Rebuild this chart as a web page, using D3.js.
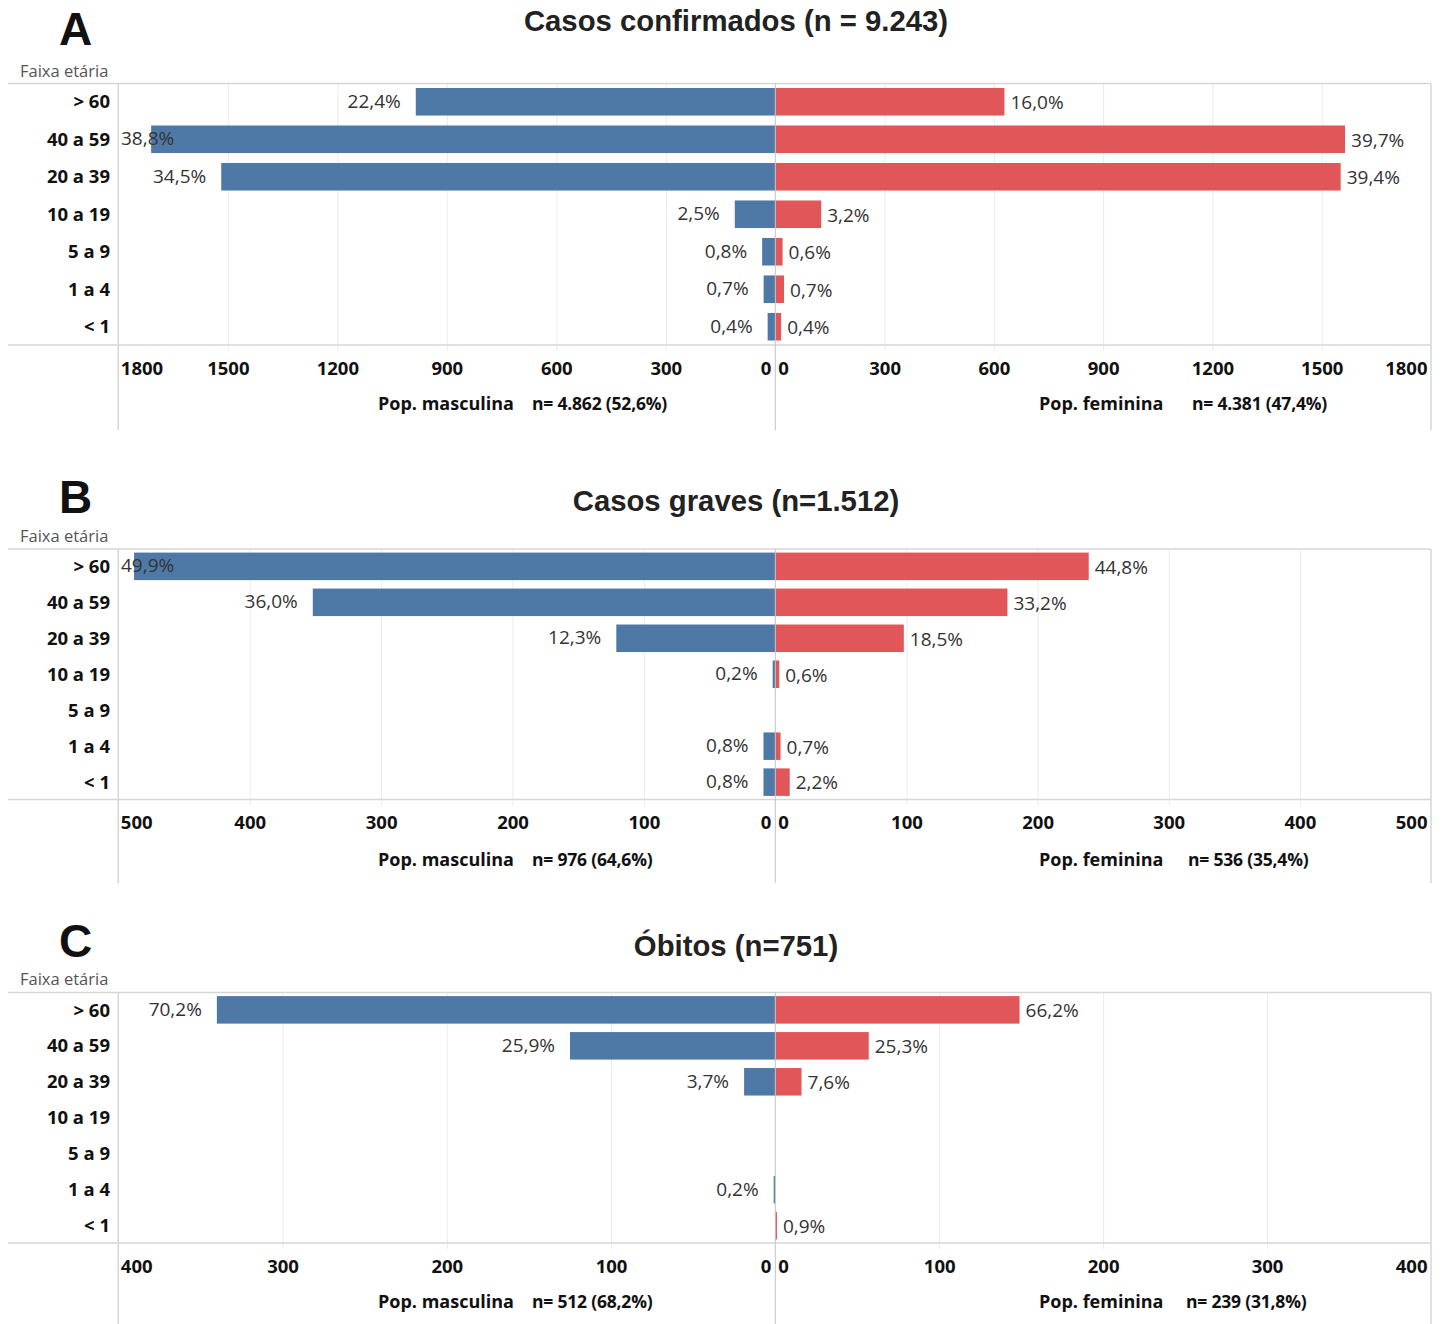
<!DOCTYPE html>
<html>
<head>
<meta charset="utf-8">
<script src="https://cdn.jsdelivr.net/npm/d3@7/dist/d3.min.js"></script>
<style>
  html, body { margin: 0; padding: 0; background: #ffffff; }
  svg { display: block; }
</style>
</head>
<body>
<svg id="chart" width="1444" height="1324"></svg>
<script>
// ---------------- DATA ----------------
const ageGroups = ["> 60", "40 a 59", "20 a 39", "10 a 19", "5 a 9", "1 a 4", "< 1"];

// Panel A – Casos confirmados
const maleA = [985, 1710, 1518, 111, 36, 32, 21];
const femaleA = [629, 1564, 1552, 126, 20, 24, 16];
const maleLabelsA = ["22,4%", "38,8%", "34,5%", "2,5%", "0,8%", "0,7%", "0,4%"];
const femaleLabelsA = ["16,0%", "39,7%", "39,4%", "3,2%", "0,6%", "0,7%", "0,4%"];
const ticksA = [0, 300, 600, 900, 1200, 1500, 1800];

// Panel B – Casos graves
const maleB = [488, 352, 121, 2, 0, 9, 9];
const femaleB = [239, 177, 98, 3, 0, 4, 11];
const maleLabelsB = ["49,9%", "36,0%", "12,3%", "0,2%", "", "0,8%", "0,8%"];
const femaleLabelsB = ["44,8%", "33,2%", "18,5%", "0,6%", "", "0,7%", "2,2%"];
const ticksB = [0, 100, 200, 300, 400, 500];

// Panel C – Óbitos
const maleC = [340, 125, 19, 0, 0, 1, 0];
const femaleC = [149, 57, 16, 0, 0, 0, 1];
const maleLabelsC = ["70,2%", "25,9%", "3,7%", "", "", "0,2%", ""];
const femaleLabelsC = ["66,2%", "25,3%", "7,6%", "", "", "", "0,9%"];
const ticksC = [0, 100, 200, 300, 400];

const panelLetters = ["A", "B", "C"];
const titles = ["Casos confirmados (n = 9.243)", "Casos graves (n=1.512)", "Óbitos (n=751)"];
const maleTotals = ["n= 4.862 (52,6%)", "n= 976 (64,6%)", "n= 512 (68,2%)"];
const femaleTotals = ["n= 4.381 (47,4%)", "n= 536 (35,4%)", "n= 239 (31,8%)"];
const maleAxisTitle = "Pop. masculina";
const femaleAxisTitle = "Pop. feminina";
const rowAxisTitle = "Faixa etária";

// ---------------- LAYOUT ----------------
const BLUE = "#4e79a7", RED = "#e15759";
const X_LEFT = 118.3, X_CENTER = 775.3, X_RIGHT = 1431, X_LINE0 = 8;
const LABEL_FONT = "'Open Sans', 'Noto Sans', sans-serif";

const panels = [
  { male: maleA, female: femaleA, ml: maleLabelsA, fl: femaleLabelsA, ticks: ticksA,
    rowTop: 83.5, rowBottom: 345, tickY: 375, subY: 410, bottom: 430,
    titleY: 31, letterY: 45, faixaY: 77, pi: 0.265, po: 0.12, femNX: 1192 },
  { male: maleB, female: femaleB, ml: maleLabelsB, fl: femaleLabelsB, ticks: ticksB,
    rowTop: 549, rowBottom: 799.5, tickY: 829, subY: 866, bottom: 883,
    titleY: 511, letterY: 513, faixaY: 542, pi: 0.235, po: 0.1, femNX: 1188 },
  { male: maleC, female: femaleC, ml: maleLabelsC, fl: femaleLabelsC, ticks: ticksC,
    rowTop: 992.5, rowBottom: 1243, tickY: 1273, subY: 1308, bottom: 1324,
    titleY: 956, letterY: 957, faixaY: 985, pi: 0.235, po: 0.1, femNX: 1186 }
];

const svg = d3.select("#chart");

panels.forEach((p, i) => {
  const g = svg.append("g");
  const max = d3.max(p.ticks);
  const xL = d3.scaleLinear().domain([0, max]).range([X_CENTER, X_LEFT]);
  const xR = d3.scaleLinear().domain([0, max]).range([X_CENTER, X_RIGHT]);
  const y = d3.scaleBand().domain(ageGroups).range([p.rowTop, p.rowBottom])
    .paddingInner(p.pi).paddingOuter(p.po);

  // Letter and title
  g.append("text").attr("x", 59).attr("y", p.letterY)
    .attr("font-family", "'Liberation Sans', Arial, sans-serif")
    .attr("font-weight", "bold").attr("font-size", 46).attr("fill", "#111")
    .text(panelLetters[i]);
  g.append("text").attr("x", 736).attr("y", p.titleY).attr("text-anchor", "middle")
    .attr("font-family", "'Liberation Sans', Arial, sans-serif")
    .attr("font-weight", "bold").attr("font-size", 29.3).attr("fill", "#222")
    .text(titles[i]);
  g.append("text").attr("x", 20).attr("y", p.faixaY)
    .attr("font-family", LABEL_FONT).attr("font-size", 16.5).attr("fill", "#555")
    .text(rowAxisTitle);

  // Gridlines via axes
  const gridTicksL = p.ticks.filter(t => t > 0 && t < max);
  const gridL = d3.axisBottom(xL).tickValues(gridTicksL)
    .tickSize(-(p.rowBottom - p.rowTop + 6)).tickFormat("");
  const gridR = d3.axisBottom(xR).tickValues(gridTicksL)
    .tickSize(-(p.rowBottom - p.rowTop + 6)).tickFormat("");
  [gridL, gridR].forEach(ax => {
    const gg = g.append("g").attr("transform", `translate(0,${p.rowBottom + 6})`).call(ax);
    gg.select(".domain").remove();
    gg.selectAll(".tick line").attr("stroke", "#ebebeb").attr("stroke-width", 1);
  });

  // Frame lines
  const lineColor = "#d6d6d6";
  g.append("line").attr("x1", X_LINE0).attr("x2", X_RIGHT).attr("y1", p.rowTop).attr("y2", p.rowTop)
    .attr("stroke", lineColor).attr("stroke-width", 1.5);
  g.append("line").attr("x1", X_LINE0).attr("x2", X_RIGHT).attr("y1", p.rowBottom).attr("y2", p.rowBottom)
    .attr("stroke", lineColor).attr("stroke-width", 1.5);
  [X_LEFT, X_RIGHT].forEach(x => {
    g.append("line").attr("x1", x).attr("x2", x).attr("y1", p.rowTop).attr("y2", p.bottom)
      .attr("stroke", lineColor).attr("stroke-width", 1.5);
  });

  // Bars
  g.selectAll(".bm").data(ageGroups.map((a, k) => ({ a, v: p.male[k] })).filter(d => d.v > 0))
    .enter().append("rect")
    .attr("x", d => xL(d.v)).attr("y", d => y(d.a))
    .attr("width", d => X_CENTER - xL(d.v)).attr("height", y.bandwidth())
    .attr("fill", BLUE);
  g.selectAll(".bf").data(ageGroups.map((a, k) => ({ a, v: p.female[k] })).filter(d => d.v > 0))
    .enter().append("rect")
    .attr("x", X_CENTER).attr("y", d => y(d.a))
    .attr("width", d => xR(d.v) - X_CENTER).attr("height", y.bandwidth())
    .attr("fill", RED);

  // Center line
  g.append("line").attr("x1", X_CENTER).attr("x2", X_CENTER).attr("y1", p.rowTop).attr("y2", p.bottom)
    .attr("stroke", "#c4c4c4").attr("stroke-width", 1);

  // Bar labels
  ageGroups.forEach((a, k) => {
    const cy = y(a) + y.bandwidth() / 2;
    if (p.ml[k]) {
      const t = g.append("text").attr("y", cy - 1).attr("dy", "0.36em")
        .attr("font-family", LABEL_FONT).attr("font-size", 19).attr("fill", "#333")
        .attr("text-anchor", "end").attr("x", xL(p.male[k]) - 15).text(p.ml[k]);
      const w = t.node().getComputedTextLength();
      if (xL(p.male[k]) - 15 - w < 121) {
        t.attr("text-anchor", "start").attr("x", 121);
      }
    }
    if (p.fl[k]) {
      g.append("text").attr("y", cy + 0.5).attr("dy", "0.36em")
        .attr("font-family", LABEL_FONT).attr("font-size", 19).attr("fill", "#333")
        .attr("x", xR(p.female[k]) + 6).text(p.fl[k]);
    }
  });

  // Row labels
  const yAxis = d3.axisLeft(y).tickSize(0).tickPadding(3);
  const ya = g.append("g").attr("transform", "translate(113,0)").call(yAxis);
  ya.select(".domain").remove();
  ya.selectAll("text").attr("font-family", LABEL_FONT).attr("font-weight", "bold")
    .attr("font-size", 18.5).attr("fill", "#111").attr("dy", "0.36em");

  // X axes (tick labels)
  const axL = d3.axisBottom(xL).tickValues(p.ticks).tickSize(0).tickFormat(d3.format("d"));
  const axR = d3.axisBottom(xR).tickValues(p.ticks).tickSize(0).tickFormat(d3.format("d"));
  [[axL, "L"], [axR, "R"]].forEach(([ax, side]) => {
    const gg = g.append("g").attr("transform", `translate(0,${p.tickY})`).call(ax);
    gg.select(".domain").remove();
    gg.selectAll("text").attr("y", 0).attr("dy", 0)
      .attr("font-family", LABEL_FONT).attr("font-weight", "bold")
      .attr("font-size", 18.5).attr("fill", "#111")
      .attr("text-anchor", d => {
        if (d === 0) return side === "L" ? "end" : "start";
        if (d === max) return side === "L" ? "start" : "end";
        return "middle";
      })
      .attr("x", d => {
        if (d === 0) return side === "L" ? -4.5 : 2.5;
        if (d === max) return side === "L" ? 2 : -4;
        return 0;
      });
  });

  // Axis titles
  const subFont = (sel) => sel.attr("font-family", LABEL_FONT).attr("font-weight", "bold")
    .attr("font-size", 18).attr("fill", "#111");
  g.append("text").attr("x", 378).attr("y", p.subY).call(subFont).text(maleAxisTitle);
  g.append("text").attr("x", 532).attr("y", p.subY).call(subFont).attr("font-size", 17.5)
    .attr("letter-spacing", "-0.2").text(maleTotals[i]);
  g.append("text").attr("x", 1039).attr("y", p.subY).call(subFont).text(femaleAxisTitle);
  g.append("text").attr("x", p.femNX).attr("y", p.subY).call(subFont).attr("font-size", 17.5)
    .attr("letter-spacing", "-0.2").text(femaleTotals[i]);
});
</script>
</body>
</html>
